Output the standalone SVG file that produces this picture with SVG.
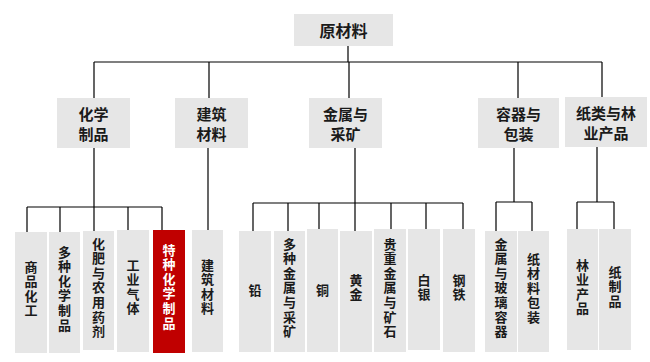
<svg xmlns="http://www.w3.org/2000/svg" width="650" height="362" viewBox="0 0 650 362">
<style>
.b{fill:#e6e6e6}
.r{fill:#c00000}
.t{font-family:"Noto Sans CJK SC","Noto Sans",sans-serif;font-weight:bold;font-size:15px;fill:#1a1a1a;text-anchor:middle;dominant-baseline:central}
.v{font-family:"Liberation Sans","Noto Sans CJK SC",sans-serif;font-size:13px}
.w{fill:#ffffff}
.c{fill:none;stroke:#000;stroke-width:1.2}
</style>
<rect width="650" height="362" fill="#fff"/>
<g id="connectors">
<path class="c" d="M348 46V62M94 62H602M94 62V98M209 62V98M349 62V98M518 62V98M602 62V97"/>
<path class="c" d="M94 148V207M27 207H162M27 207V232M60 207V232M94 207V231M128 207V230M162 207V230"/>
<path class="c" d="M208 148V230"/>
<path class="c" d="M355 148V203M253 203H463M253 203V231M288 203V231M319 203V229M355 203V231M391 203V229M426 203V229M463 203V229"/>
<path class="c" d="M514 148V202M496 202H532M496 202V231M532 202V231"/>
<path class="c" d="M597 147V202M577 202H614M577 202V229M614 202V229"/>
</g>
<g id="n-root"><rect class="b" x="294" y="14" width="99" height="32"/><text class="t" x="343.5" y="30" style="font-size:16px">原材料</text></g>
<g id="n-chem"><rect class="b" x="57" y="98" width="73" height="50"/><text class="t" x="93.5" y="113">化学</text><text class="t" x="93.5" y="133">制品</text></g>
<g id="n-build"><rect class="b" x="175" y="98" width="73" height="50"/><text class="t" x="211.5" y="113">建筑</text><text class="t" x="211.5" y="133">材料</text></g>
<g id="n-metal"><rect class="b" x="309" y="98" width="73" height="50"/><text class="t" x="345.5" y="113">金属与</text><text class="t" x="345.5" y="133">采矿</text></g>
<g id="n-pack"><rect class="b" x="478" y="98" width="81" height="50"/><text class="t" x="518.5" y="113">容器与</text><text class="t" x="518.5" y="133">包装</text></g>
<g id="n-paper"><rect class="b" x="565" y="97" width="82" height="50"/><text class="t" x="606" y="112">纸类与林</text><text class="t" x="606" y="132">业产品</text></g>

<g id="n-l1" class="t v"><rect class="b" x="15" y="232" width="32" height="121"/><text x="31" y="267">商</text><text x="31" y="281.6">品</text><text x="31" y="296.2">化</text><text x="31" y="310.8">工</text></g>
<g id="n-l2" class="t v"><rect class="b" x="49" y="232" width="31" height="121"/><text x="64.5" y="252">多</text><text x="64.5" y="266.6">种</text><text x="64.5" y="281.2">化</text><text x="64.5" y="295.8">学</text><text x="64.5" y="310.4">制</text><text x="64.5" y="325">品</text></g>
<g id="n-l3" class="t v"><rect class="b" x="83" y="231" width="31" height="119"/><text x="98.5" y="244">化</text><text x="98.5" y="258.6">肥</text><text x="98.5" y="273.2">与</text><text x="98.5" y="287.8">农</text><text x="98.5" y="302.4">用</text><text x="98.5" y="317">药</text><text x="98.5" y="331.6">剂</text></g>
<g id="n-l4" class="t v"><rect class="b" x="117" y="230" width="32" height="122"/><text x="133" y="265">工</text><text x="133" y="279.6">业</text><text x="133" y="294.2">气</text><text x="133" y="308.8">体</text></g>
<g id="n-l5" class="t v w"><rect class="r" x="153" y="230" width="32" height="123"/><text x="169" y="250">特</text><text x="169" y="264.6">种</text><text x="169" y="279.2">化</text><text x="169" y="293.8">学</text><text x="169" y="308.4">制</text><text x="169" y="323">品</text></g>
<g id="n-l6" class="t v"><rect class="b" x="192" y="230" width="31" height="122"/><text x="207.5" y="265">建</text><text x="207.5" y="279.6">筑</text><text x="207.5" y="294.2">材</text><text x="207.5" y="308.8">料</text></g>
<g id="n-l7" class="t v"><rect class="b" x="239" y="231" width="32" height="121"/><text x="255" y="290">铅</text></g>
<g id="n-l8" class="t v"><rect class="b" x="274" y="231" width="31" height="121"/><text x="289.5" y="244">多</text><text x="289.5" y="258.6">种</text><text x="289.5" y="273.2">金</text><text x="289.5" y="287.8">属</text><text x="289.5" y="302.4">与</text><text x="289.5" y="317">采</text><text x="289.5" y="331.6">矿</text></g>
<g id="n-l9" class="t v"><rect class="b" x="307" y="229" width="31" height="123"/><text x="322.5" y="290">铜</text></g>
<g id="n-l10" class="t v"><rect class="b" x="340" y="231" width="32" height="121"/><text x="356" y="280">黄</text><text x="356" y="294.6">金</text></g>
<g id="n-l11" class="t v"><rect class="b" x="374" y="229" width="32" height="123"/><text x="390" y="244">贵</text><text x="390" y="258.6">重</text><text x="390" y="273.2">金</text><text x="390" y="287.8">属</text><text x="390" y="302.4">与</text><text x="390" y="317">矿</text><text x="390" y="331.6">石</text></g>
<g id="n-l12" class="t v"><rect class="b" x="408" y="229" width="32" height="121"/><text x="424" y="280">白</text><text x="424" y="294.6">银</text></g>
<g id="n-l13" class="t v"><rect class="b" x="443" y="229" width="32" height="123"/><text x="459" y="280">钢</text><text x="459" y="294.6">铁</text></g>
<g id="n-l14" class="t v"><rect class="b" x="485" y="231" width="32" height="121"/><text x="501" y="244">金</text><text x="501" y="258.6">属</text><text x="501" y="273.2">与</text><text x="501" y="287.8">玻</text><text x="501" y="302.4">璃</text><text x="501" y="317">容</text><text x="501" y="331.6">器</text></g>
<g id="n-l15" class="t v"><rect class="b" x="518" y="231" width="31" height="121"/><text x="533.5" y="259">纸</text><text x="533.5" y="273.6">材</text><text x="533.5" y="288.2">料</text><text x="533.5" y="302.8">包</text><text x="533.5" y="317.4">装</text></g>
<g id="n-l16" class="t v"><rect class="b" x="567" y="229" width="31" height="121"/><text x="582.5" y="265">林</text><text x="582.5" y="279.6">业</text><text x="582.5" y="294.2">产</text><text x="582.5" y="308.8">品</text></g>
<g id="n-l17" class="t v"><rect class="b" x="599" y="229" width="32" height="121"/><text x="615" y="272">纸</text><text x="615" y="286.6">制</text><text x="615" y="301.2">品</text></g>
</svg>
